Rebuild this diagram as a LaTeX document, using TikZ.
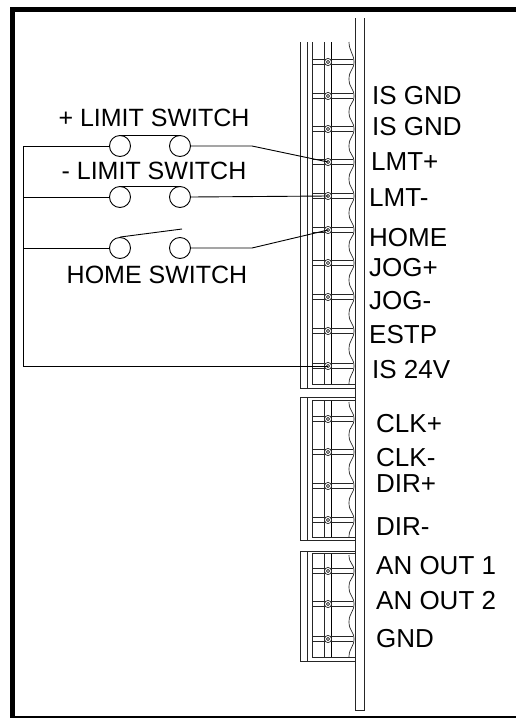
\documentclass[tikz,border=0pt]{standalone}
\usepackage{fontspec}
\setmainfont{Liberation Sans}
\begin{document}
\begin{tikzpicture}[x=1pt,y=-1pt,
  wire/.style={line width=0.9pt,black},
  thin wire/.style={line width=0.7pt,black!85},
  sw/.style={circle,draw,line width=0.9pt,minimum size=21pt,inner sep=0pt,fill=white},
  lab/.style={font=\fontsize{25}{25}\selectfont,inner sep=0pt,text=black},
  rlab/.style={font=\fontsize{26}{26}\selectfont,inner sep=0pt,text=black,anchor=west}]
\useasboundingbox (0,0) rectangle (516,718);
% frame
\fill[black] (10,7) rectangle (516,12);
\fill[black] (10,7) rectangle (15,718);
\fill[black] (10,716) rectangle (516,718);
% strip
\draw[thin wire] (355,18) -- (355,710) -- (364,710) -- (364,18);
% block bodies
\newcommand{\blockbody}[6]{%
  \draw[thin wire] (300,#1) -- (300,#4) -- (355,#4);
  \draw[thin wire] (307,#1) -- (307,#4);
  \draw[thin wire] (312,#2) -- (312,#3) -- (355,#3);
  \draw[thin wire] (324,#2) -- (324,#3);
  \draw[wire] (331,#2) -- (331,#3);
  \ifnum#5=1 \draw[thin wire] (300,#1) -- (355,#1);\fi
  \ifnum#6=1 \draw[thin wire] (312,#2) -- (355,#2);\fi
}
\blockbody{42}{42}{384}{388}{0}{0}
\blockbody{397}{400}{537}{540}{1}{1}
\blockbody{551}{553}{657}{661}{1}{1}
% terminals
\newcommand{\termb}[2]{%
  \coordinate (#1) at (328,#2);
  \draw[thin wire] (312,#2-2.5) -- (353,#2-2.5);
  \draw[thin wire] (312,#2+2.5) -- (353,#2+2.5);
  \draw[thin wire,fill=white] (328,#2) circle[radius=3.6pt];
  \draw[thin wire] (328,#2) circle[radius=1.6pt];
}
\foreach \n/\y in {a/62,b/96,c/129,d/162,e/196,f/230,g/263,h/297,i/331,j/366,k/419,l/452,m/486,n/520,o/571,p/604,q/639}{\termb{\n}{\y}}
% connector waves: trough, peak at the terminal, next trough
\newcommand{\wave}[3]{%
  \draw[thin wire] (349,#1) .. controls (349,#1+9) and (354,#2-8) .. (354,#2) .. controls (354,#2+8) and (349,#3-9) .. (349,#3);
}
\foreach \a/\b/\c in {42/62/79,79/96/112,112/129/146,146/162/179,179/196/213,213/230/246,246/263/280,280/297/314,314/331/349,349/366/384,
  402/419/435,435/452/469,469/486/503,503/520/537,
  555/571/587,587/604/622,622/639/657}{\wave{\a}{\b}{\c}}
% switches
\node[sw] (s1l) at (120,146) {};
\node[sw] (s1r) at (180,146) {};
\node[sw] (s2l) at (120,197) {};
\node[sw] (s2r) at (180,197) {};
\node[sw] (s3l) at (120,248) {};
\node[sw] (s3r) at (180,248) {};
\coordinate (bendA) at (23,146);
\coordinate (bendB) at (23,197);
\coordinate (bendC) at (23,248);
\coordinate (bendD) at (23,366);
\coordinate (armEnd) at (182,229);
\draw[wire] (s1l.west) -- (bendA) -- (bendD) -- (j);
\draw[wire] (s2l.west) -- (bendB);
\draw[wire] (s3l.west) -- (bendC);
\draw[wire] (s1l.north) -- (s1r.north);
\draw[wire] (s2l.north) -- (s2r.north);
\draw[wire] (s3l.north) -- (armEnd);
\draw[wire] (s1r.east) -- (252,146) -- (d);
\draw[wire] (s2r.east) -- (e);
\draw[wire] (s3r.east) -- (252,248) -- (f);
% labels
\node[lab] (t1) at (154,118) {+ LIMIT SWITCH};
\node[lab] (t2) at (154,171) {- LIMIT SWITCH};
\node[lab] (t3) at (157,275) {HOME SWITCH};
\foreach \x/\y/\t/\nm in {372/96/IS GND/r1,372/127/IS GND/r2,371/162/LMT+/r3,369/198/LMT-/r4,369/238/HOME/r5,369/268/JOG+/r6,369/301/JOG-/r7,369/335/ESTP/r8,372/370/IS 24V/r9,376/424/CLK+/r10,376/458/CLK-/r11,376/484/DIR+/r12,376/527/DIR-/r13,376/566/AN OUT 1/r14,376/601/AN OUT 2/r15,376/639/GND/r16}{\node[rlab] (\nm) at (\x,\y) {\t};}
\end{tikzpicture}
\end{document}
